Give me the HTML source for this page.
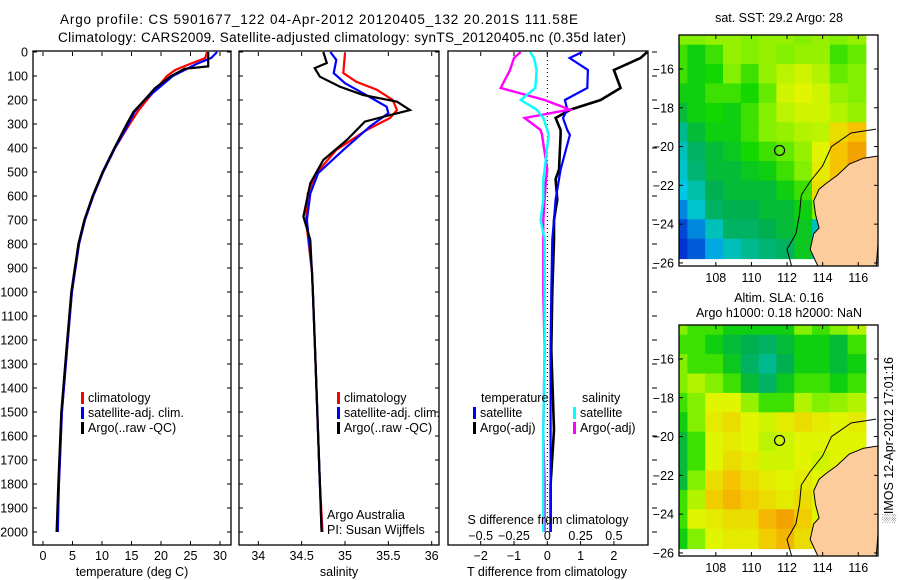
<!DOCTYPE html>
<html><head><meta charset="utf-8"><style>
body{margin:0;background:#fff}
svg{display:block;font-family:"Liberation Sans",sans-serif}
</style></head><body>
<svg id="fig" width="900" height="580" viewBox="0 0 900 580">
<text x="319" y="24" font-size="13.5" text-anchor="middle" textLength="518">Argo profile: CS 5901677_122 04-Apr-2012 20120405_132 20.201S 111.58E</text>
<text x="342" y="42" font-size="13.5" text-anchor="middle" textLength="568">Climatology: CARS2009. Satellite-adjusted climatology: synTS_20120405.nc (0.35d later)</text>
<g id="g"></g>
</svg>
<script>
// ---------- data ----------
const tDepth=[0,25,50,75,100,150,200,250,300,400,500,600,700,800,1000,1200,1500,1800,2000];
const tClim=[27.8,27.5,24.9,22.4,21,19.3,17.6,16,14.7,12.2,10.2,8.5,7.1,6.1,4.9,4.2,3.2,2.7,2.4];
const tSat=[29.5,28.5,26,24,22,19.6,17.2,15.5,14.5,12.2,10.2,8.5,7.1,6.1,4.9,4.2,3.2,2.7,2.5];
const tArgoDepth=[0,60,70,100,150,200,250,300,400,500,600,700,800,1000,1200,1500,1800,2000];
const tArgo=[28,28,24,21.7,19,17.2,15.3,14.2,12.1,10.1,8.4,7.0,6.0,4.8,4.1,3.1,2.6,2.3];
const sClimDepth=[4,88,124,158,200,242,275,325,408,505,590,700,920,1200,1500,1800,2000];
const sClim=[35.0,34.98,35.13,35.37,35.55,35.6,35.52,35.25,34.9,34.67,34.57,34.55,34.62,34.65,34.68,34.71,34.74];
const sSatDepth=[0,33,88,130,172,228,255,310,408,505,590,700,920,1200,1500,1800,2000];
const sSat=[34.83,34.9,34.87,35.0,35.21,35.48,35.5,35.29,34.98,34.69,34.6,34.56,34.62,34.65,34.68,34.71,34.73];
const sArgoDepth=[0,46,67,103,144,179,207,242,270,290,367,450,547,686,783,1000,1200,1500,1800,2000];
const sArgo=[34.75,34.79,34.65,34.71,34.94,35.21,35.6,35.75,35.44,35.23,35.02,34.75,34.6,34.52,34.6,34.63,34.65,34.68,34.71,34.73];
const dDepth=[0,25,75,150,200,240,275,325,345,490,530,615,700,780,1000,1240,1575,1800,2000];
const dTsat=[1.05,0.67,1.22,1.2,0.53,0.6,0.47,0.6,0.68,0.4,0.35,0.25,0.2,0.15,0.12,0.1,0.1,0.1,0.1];
const dTargo=[3.0,2.8,2.0,2.2,1.6,0.7,0.25,0.4,0.4,0.35,0.25,0.3,0.2,0.2,0.15,0.12,0.2,0.1,0.1];
const dSsat=[-0.13,-0.1,-0.08,-0.09,-0.2,-0.08,-0.03,0,0.01,-0.02,-0.03,-0.03,-0.05,-0.02,-0.02,-0.02,-0.03,-0.03,-0.03];
const dSargo=[-0.2,-0.25,-0.28,-0.35,-0.02,0.17,-0.17,-0.05,-0.04,0,-0.01,-0.02,-0.03,-0.03,-0.03,-0.02,-0.03,-0.02,-0.02];
const depthTicks=[0,100,200,300,400,500,600,700,800,900,1000,1100,1200,1300,1400,1500,1600,1700,1800,1900,2000];
const tTicks=[0,5,10,15,20,25,30];
const sTicks=[34,34.5,35,35.5,36];
const dTTicks=[-2,-1,0,1,2];
const dSTicks=[-0.5,-0.25,0,0.25,0.5];
const lonTicks=[108,110,112,114,116];
const latTicks=[-16,-18,-20,-22,-24,-26];
const sstGrid=[
[.6,.6,.62,.62,.6,.62,.62,.6,.62,.6,.62],
[.55,.5,.55,.62,.6,.62,.6,.62,.62,.55,.58],
[.55,.5,.52,.6,.55,.62,.66,.68,.65,.58,.6],
[.5,.5,.55,.55,.52,.58,.68,.7,.68,.62,.6],
[.45,.5,.52,.5,.55,.6,.66,.68,.68,.65,.62],
[.35,.45,.5,.5,.55,.6,.62,.65,.66,.75,.8],
[.3,.4,.45,.48,.52,.55,.58,.62,.7,.8,.85],
[.28,.38,.45,.45,.48,.5,.55,.6,.72,.8,.85],
[.25,.32,.42,.45,.45,.45,.5,.55,.75,.8,.8],
[.15,.28,.4,.42,.42,.45,.45,.5,.6,.6,.6],
[.05,.15,.3,.4,.4,.42,.45,.48,.3,.3,.3],
[.02,.08,.2,.3,.35,.38,.4,.48,.3,.3,.3]];
const slaGrid=[
[.6,.55,.55,.5,.5,.5,.5,.6,.55,.6,.65],
[.55,.55,.5,.45,.42,.4,.45,.5,.5,.45,.55],
[.6,.55,.55,.48,.4,.35,.42,.5,.5,.45,.5],
[.6,.65,.6,.55,.45,.4,.48,.55,.55,.5,.55],
[.55,.6,.7,.7,.62,.55,.55,.65,.6,.62,.65],
[.5,.6,.72,.75,.7,.68,.72,.75,.72,.7,.72],
[.45,.55,.7,.72,.7,.66,.68,.7,.7,.7,.7],
[.45,.55,.7,.75,.72,.68,.68,.7,.68,.7,.7],
[.45,.6,.75,.8,.75,.72,.7,.72,.7,.7,.7],
[.55,.65,.78,.82,.78,.75,.72,.75,.7,.7,.7],
[.55,.7,.72,.75,.75,.82,.85,.78,.7,.7,.7],
[.5,.6,.7,.72,.72,.78,.82,.75,.7,.7,.7]];
const coastLon=[117,116.3,115.5,114.8,114.2,113.8,113.5,113.6,113.8,113.5,113.3,113.8,117];
const coastLat=[-20.5,-20.6,-20.9,-21.5,-21.9,-22.2,-22.8,-23.5,-24.2,-24.5,-25.3,-26.3,-26.3];
const isoLon=[117,115.6,114.5,114,113.3,112.8,112.7,112.5,112.0,112.3];
const isoLat=[-19.1,-19.3,-20,-21,-21.8,-22.5,-23.5,-24.5,-25.3,-26.3];
const floatLon=111.58, floatLat=-20.201;

// ---------- helpers ----------
const NS="http://www.w3.org/2000/svg";
const G=document.getElementById('g');
function mk(tag,attrs,parent){const e=document.createElementNS(NS,tag);for(const k in attrs)e.setAttribute(k,attrs[k]);(parent||G).appendChild(e);return e;}
function txt(x,y,s,anchor,size,parent){const t=mk('text',{x:x,y:y,'font-size':size||12,'text-anchor':anchor||'middle'},parent);t.textContent=s;return t;}
const Y=d=>52+d*0.24;
const TOP=52,BOT=545;

function panel(x0,x1,name){
  const r=mk('rect',{x:x0,y:TOP-1,width:x1-x0,height:BOT-TOP+1,fill:'#fff',stroke:'#000','stroke-width':1.3});
  
  
}
function line(xs,ys,color,name,w){
  const p=mk('polyline',{points:xs.map((v,i)=>v.toFixed(1)+','+ys[i].toFixed(1)).join(' '),fill:'none',stroke:color,'stroke-width':w||2.2,'stroke-linejoin':'miter'});
  
  
}
function yTicks(x0,x1,labels){
  depthTicks.forEach(d=>{const y=Y(d);
    mk('line',{x1:x0,y1:y,x2:x0+4,y2:y,stroke:'#000'});mk('line',{x1:x1-4,y1:y,x2:x1,y2:y,stroke:'#000'});
    if(labels){const t=txt(x0-5,y+4.5,String(d),'end',12.5);}
  });
}
function xTicks(ticks,fx,ly,top){
  ticks.forEach(v=>{const x=fx(v);
    mk('line',{x1:x,y1:BOT,x2:x,y2:BOT-4,stroke:'#000'});
    if(top)mk('line',{x1:x,y1:TOP,x2:x,y2:TOP+4,stroke:'#000'});
    const t=txt(x,ly,String(v).replace('-','\u2212'),'middle',12.5);
  });
}
function legend(x,y,items){
  items.forEach((it,i)=>{const yy=y+i*15;
    mk('rect',{x:x,y:yy-10,width:3,height:12,fill:it[1]});
    const t=txt(x+7,yy,it[0],'start',12.5);
  });
}

// ---------- panel 1: temperature ----------
const XT=v=>43+v*5.9;
panel(33,231,'temperature-panel');
yTicks(33,231,true);xTicks(tTicks,XT,560,true);
line(tClim.map(XT),tDepth.map(Y),'#f00','temp-climatology-line');
line(tSat.map(XT),tDepth.map(Y),'#00f','temp-satellite-line');
line(tArgo.map(XT),tArgoDepth.map(Y),'#000','temp-argo-line');
legend(81,402,[['climatology','#f00'],['satellite-adj. clim.','#00f'],['Argo(..raw -QC)','#000']]);
let t=txt(132,576,'temperature (deg C)','middle',12.5);

// ---------- panel 2: salinity ----------
const XS=v=>258.3+(v-34)*86.7;
panel(239,439,'salinity-panel');
yTicks(239,439,false);xTicks(sTicks,XS,560,true);
line(sClim.map(XS),sClimDepth.map(Y),'#f00','sal-climatology-line');
line(sSat.map(XS),sSatDepth.map(Y),'#00f','sal-satellite-line');
line(sArgo.map(XS),sArgoDepth.map(Y),'#000','sal-argo-line');
legend(337,402,[['climatology','#f00'],['satellite-adj. clim.','#00f'],['Argo(..raw -QC)','#000']]);
t=txt(327,519,'Argo Australia','start',12.5);
t=txt(327,534,'PI: Susan Wijffels','start',12.5);
t=txt(339,576,'salinity','middle',12.5);

// ---------- panel 3: differences ----------
const XD=v=>547.3+v*33.3;
const XDS=v=>XD(v*4);
panel(448,648,'difference-panel');
depthTicks.forEach(d=>{const y=Y(d);mk('line',{x1:652,y1:y,x2:657,y2:y,stroke:'#000'});});
mk('line',{x1:XD(0),y1:TOP,x2:XD(0),y2:Y(2000),stroke:'#000','stroke-dasharray':'1,3'});
xTicks(dTTicks,XD,560,true);
dSTicks.forEach(v=>{const tt=txt(XDS(v),540,String(v).replace('-','\u2212'),'middle',12.5);});
line(dTargo.map(XD),dDepth.map(Y),'#000','tdiff-argo-line',2.6);
line(dTsat.map(XD),dDepth.map(Y),'#00f','tdiff-satellite-line');
line(dSargo.map(XDS),dDepth.map(Y),'#f0f','sdiff-argo-line',2.4);
line(dSsat.map(XDS),dDepth.map(Y),'#0ff','sdiff-satellite-line',2.4);
t=txt(481,402,'temperature','start',12.5);
t=txt(582,402,'salinity','start',12.5);
legend(473,417,[['satellite','#00f'],['Argo(-adj)','#000']]);
legend(573,417,[['satellite','#0ff'],['Argo(-adj)','#f0f']]);
t=txt(548,524,'S difference from climatology','middle',12.5);
t=txt(547,576,'T difference from climatology','middle',12.5);

// ---------- maps ----------
function cmap(v){
  const stops=[[0,[0,40,210]],[0.25,[0,200,230]],[0.42,[0,175,80]],[0.52,[20,215,0]],[0.6,[130,240,0]],[0.7,[225,245,0]],[0.8,[245,195,0]],[0.9,[240,130,0]],[1,[210,40,0]]];
  for(let i=1;i<stops.length;i++){if(v<=stops[i][0]){const a=stops[i-1],b=stops[i];const f=(v-a[0])/(b[0]-a[0]);
    return 'rgb('+a[1].map((c,k)=>Math.round(c+(b[1][k]-c)*f)).join(',')+')';}}
  return 'rgb(210,40,0)';
}
function map(top,grid,name,titles){
  const L=679,R=878,H=231;
  const MX=lon=>L+(lon-105.93)*17.8, MY=lat=>top+(-14.25-lat)*19.4;
  const g=mk('g',{});
  const cp=mk('clipPath',{id:'c'+top},g);mk('rect',{x:L,y:top,width:R-L,height:H},cp);
  const inner=mk('g',{'clip-path':'url(#c'+top+')'},g);
  grid.forEach((row,i)=>row.forEach((v,j)=>{
    const lon0=106+j-0.1, lat0=-14.25-i;
    const c=mk('rect',{x:MX(lon0-0.5).toFixed(1),y:MY(lat0+0.5).toFixed(1),width:18.8,height:20.4,fill:cmap(v)},inner);
    
    
  }));
  const land=mk('polygon',{points:coastLon.map((v,i)=>MX(v).toFixed(1)+','+MY(coastLat[i]).toFixed(1)).join(' ')+' '+MX(117.5)+','+MY(-20.5),fill:'#fccc9c',stroke:'#000','stroke-width':1},inner);
  
  const iso=mk('polyline',{points:isoLon.map((v,i)=>MX(v).toFixed(1)+','+MY(isoLat[i]).toFixed(1)).join(' '),fill:'none',stroke:'#000','stroke-width':1},inner);
  
  const fl=mk('circle',{cx:MX(floatLon),cy:MY(floatLat),r:5,fill:'none',stroke:'#000','stroke-width':1.2},g);
  
  mk('rect',{x:L,y:top,width:R-L,height:H,fill:'none',stroke:'#000','stroke-width':1.3},g);
  lonTicks.forEach(v=>{const x=MX(v);mk('line',{x1:x,y1:top,x2:x,y2:top+4,stroke:'#000'},g);mk('line',{x1:x,y1:top+H,x2:x,y2:top+H-4,stroke:'#000'},g);
    const tt=txt(x,top+H+16,String(v),'middle',12.5,g);});
  latTicks.forEach(v=>{const y=MY(v);mk('line',{x1:L,y1:y,x2:L+4,y2:y,stroke:'#000'},g);mk('line',{x1:R,y1:y,x2:R-4,y2:y,stroke:'#000'},g);
    const tt=txt(L-5,y+4.5,String(v).replace('-','\u2212'),'end',12.5,g);});
  titles.forEach((s,i)=>{const yy=titles.length==1?top-13:top-23+i*15;const tt=txt(779,yy,s,'middle',12.5,g);});
}
map(35,sstGrid,'sst-map',['sat. SST: 29.2 Argo: 28']);
map(325,slaGrid,'sla-map',['Altim. SLA: 0.16','Argo h1000: 0.18 h2000: NaN']);
t=mk('text',{x:0,y:0,'font-size':12.5,'text-anchor':'middle',transform:'translate(893,440) rotate(-90)'});
t.textContent='\u2591IMOS 12-Apr-2012 17:01:16';


</script>
</body></html>
